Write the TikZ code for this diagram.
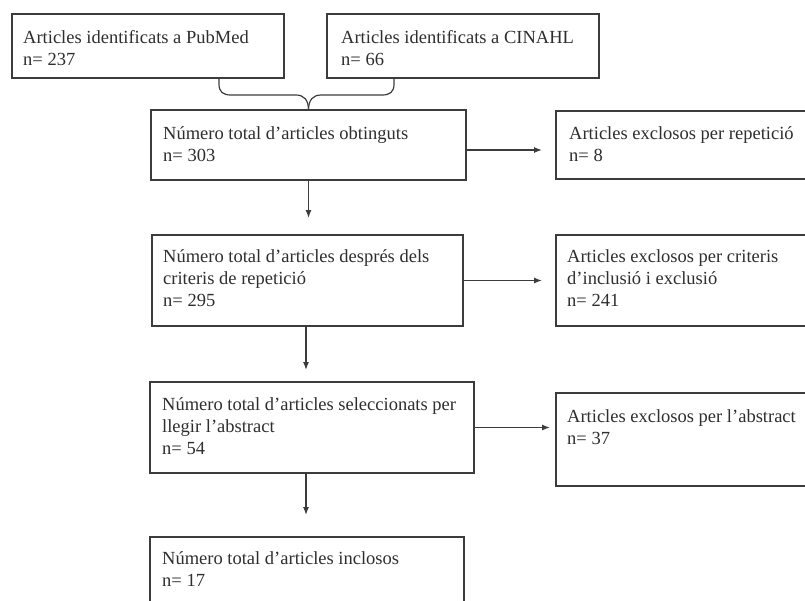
\documentclass[tikz,border=0pt]{standalone}
\usepackage{fontspec}
\setmainfont{Liberation Serif}
\usetikzlibrary{arrows.meta,calc}
\definecolor{linec}{HTML}{3C3C3C}
\definecolor{textc}{HTML}{2E2E2E}
\begin{document}
\begin{tikzpicture}[x=1pt,y=-1pt,
  box/.style={draw=linec, line width=1.3pt, inner sep=0pt, outer sep=0pt, anchor=north west},
  txt/.style={anchor=north west, inner sep=0pt, align=left, text=textc,
              font=\fontsize{18.5}{22}\selectfont},
  arr/.style={draw=linec, line width=1.2pt, -{Latex[length=8pt,width=6pt]}},
  brace/.style={draw=linec, line width=1.2pt}]
\useasboundingbox (0,0) rectangle (805,600);
\clip (0,0) rectangle (805,600);
% boxes
\node[box, minimum width=272pt, minimum height=64pt] (A) at (12,14) {};
\node[box, minimum width=272pt, minimum height=64pt] (B) at (327,14) {};
\node[box, minimum width=315pt, minimum height=70pt] (C) at (151,110) {};
\node[box, minimum width=304pt, minimum height=68pt] (D) at (556,111) {};
\node[box, minimum width=311pt, minimum height=91pt] (E) at (152,235) {};
\node[box, minimum width=304pt, minimum height=91pt] (F) at (556,235) {};
\node[box, minimum width=324pt, minimum height=91pt] (G) at (150,382) {};
\node[box, minimum width=304pt, minimum height=93pt] (H) at (556,393) {};
\node[box, minimum width=314pt, minimum height=100pt] (I) at (150,537) {};
% texts
\node[txt] (At) at (23,29) {\rule{0pt}{14pt}Articles identificats a PubMed\\n= 237};
\node[txt] (Bt) at (341,29) {\rule{0pt}{14pt}Articles identificats a CINAHL\\n= 66};
\node[txt] (Ct) at (163,125) {\rule{0pt}{14pt}Número total d’articles obtinguts\\n= 303};
\node[txt] (Dt) at (569,125) {\rule{0pt}{14pt}Articles exclosos per repetició\\n= 8};
\node[txt] (Et) at (163,248) {\rule{0pt}{14pt}Número total d'articles després dels\\criteris de repetició\\n= 295};
\node[txt] (Ft) at (567,248) {\rule{0pt}{14pt}Articles exclosos per criteris\\d’inclusió i exclusió\\n= 241};
\node[txt] (Gt) at (162,396) {\rule{0pt}{14pt}Número total d'articles seleccionats per\\llegir l’abstract\\n= 54};
\node[txt] (Ht) at (567,408) {\rule{0pt}{14pt}Articles exclosos per l’abstract\\n= 37};
\node[txt] (It) at (162,550) {\rule{0pt}{14pt}Número total d’articles inclosos\\n= 17};
% brace joining A and B into C
\coordinate (bl) at (219,78);
\coordinate (br) at (394,78);
\coordinate (tip) at (308.5,110);
\draw[brace] (bl) -- ++(0,6) .. controls ++(0,8) and ++(-8,0) .. (231,95) -- (296,95)
  .. controls (304,95) and (308.5,100) .. (tip);
\draw[brace] (br) -- ++(0,6) .. controls ++(0,8) and ++(8,0) .. (382,95) -- (321,95)
  .. controls (313,95) and (308.5,100) .. (tip);
% horizontal arrows
\draw[arr] ([yshift=-5pt]C.east) -- ([xshift=-14pt,yshift=-5pt]D.west);
\draw[arr] (E.east) -- ([xshift=-14pt]F.west);
\draw[arr] (G.east) -- ([xshift=-6pt]H.west |- G.east);
% vertical arrows
\draw[arr] (C.south) -- ([yshift=17pt]C.south |- E.north);
\draw[arr] ([xshift=-1.5pt]E.south) -- ([xshift=-1.5pt,yshift=12pt]E.south |- G.north);
\draw[arr] ([xshift=-6pt]G.south) -- ([xshift=-6pt,yshift=22pt]G.south |- I.north);
\end{tikzpicture}
\end{document}
